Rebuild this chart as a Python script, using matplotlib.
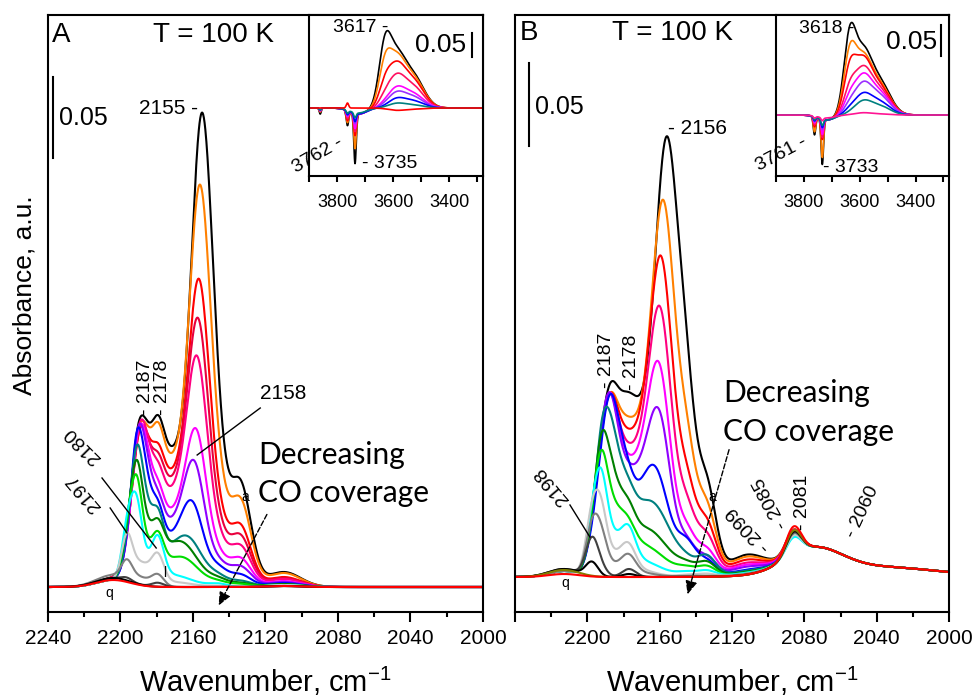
import numpy as np
import matplotlib
matplotlib.use('Agg')
import matplotlib.pyplot as plt
from matplotlib.ticker import MultipleLocator

plt.rcParams['font.family'] = ['Liberation Sans', 'DejaVu Sans']
plt.rcParams['mathtext.fontset'] = 'custom'
plt.rcParams['mathtext.rm'] = 'Liberation Sans'
plt.rcParams['mathtext.it'] = 'Liberation Sans:italic'

# Band heights. Heights are in the units of the
# figure, where the "0.05" scale bar is 81 long (panel A) / 83 long (panel B).
# Each spectrum is the sum of Gaussian bands (centre, FWHM in cm-1).

# ---------------- panel A : curves a..q ----------------
colors_A = ['#000000', '#FF8000', '#FF0000', '#E8003C', '#FF0080', '#FF00FF', '#8F00FF',
            '#0000FF', '#008080', '#007F00', '#00DD00', '#00FFFF', '#C8C8C8', '#808080',
            '#404040', '#000000', '#FF0000']
amp2204_A = [8, 8, 8, 8, 8, 7, 7, 7, 7, 7, 7, 7, 7, 12, 9, 9, 7]
amp2197_A = [20, 18, 18, 17, 16, 15, 15, 15, 20, 30, 35, 45, 45, 18, 3, 0, 0]
amp2191_A = [68, 62, 60, 62, 65, 70, 80, 95, 95, 90, 85, 70, 10, 3, 0, 0, 0]
amp2187_A = [87, 88, 90, 92, 100, 100, 95, 80, 60, 40, 25, 15, 15, 5, 0, 0, 0]
amp2180_A = [55, 55, 45, 42, 40, 38, 36, 40, 45, 35, 35, 40, 28, 12, 4, 0, 0]
amp2172_A = [131, 122, 108, 100, 90, 70, 60, 45, 30, 30, 18, 12, 5, 0, 0, 0, 0]
amp_main_A = [418, 350, 262, 225, 190, 125, 95, 60, 30, 20, 15, 0, 0, 0, 0, 0, 0]
pos_main_A = [2155, 2156, 2156.5, 2157, 2157.5, 2158, 2159, 2160, 2161.5, 2164, 2164,
              2164, 2164, 2164, 2164, 2164, 2164]
wid_main_A = [13.5, 13.5, 13.5, 13.5, 13.5, 13.5, 13.5, 14, 18, 20, 20, 20, 20, 20, 20, 20, 20]
amp2146_A = [77, 65, 45, 38, 32, 22, 18, 15, 8, 6, 4, 3, 1, 0, 0, 0, 0]
amp2134_A = [102, 85, 60, 50, 40, 28, 20, 12, 6, 4, 3, 0, 0, 0, 0, 0, 0]
amp2110_A = [15, 14, 10, 9, 8, 6, 5, 4, 3, 3, 2, 2, 2, 1, 1, 1, 1]

# ---------------- panel B : curves a..q ----------------
colors_B = ['#000000', '#FF8000', '#FF0000', '#FF0080', '#FF00FF', '#8F00FF', '#0000FF',
            '#008080', '#007F00', '#00DD00', '#00FFFF', '#C8C8C8', '#808080', '#404040',
            '#000000', '#808000', '#FF0000']
amp2213_B = [6, 6, 6, 6, 6, 6, 6, 6, 6, 6, 6, 6, 6, 8, 8, 7, 3]
amp2198_B = [25, 25, 25, 25, 25, 25, 25, 25, 30, 35, 45, 55, 45, 36, 14, 0, 0]
amp2192_B = [60, 60, 60, 62, 65, 68, 60, 90, 95, 90, 80, 55, 35, 8, 0, 0, 0]
amp2187_B = [95, 95, 100, 106, 110, 112, 120, 100, 70, 45, 25, 12, 6, 0, 0, 0, 0]
amp2182_B = [30, 30, 30, 30, 30, 30, 60, 40, 30, 25, 15, 10, 5, 0, 0, 0, 0]
amp2177_B = [15, 10, 8, 8, 8, 8, 30, 25, 25, 20, 30, 22, 16, 8, 3, 0, 0]
amp2174_B = [160, 138, 126, 111, 99, 92, 47, 45, 30, 22, 12, 8, 5, 0, 0, 0, 0]
amp_main_B = [393, 333, 276, 228, 174, 130, 86, 50, 28, 15, 6, 0, 0, 0, 0, 0, 0]
pos_main_B = [2156, 2157.7, 2158.8, 2159.4, 2160, 2160, 2162, 2161, 2162, 2163, 2165,
              2165, 2165, 2165, 2165, 2165, 2165]
wid_main_B = [15, 15, 15, 15, 15, 15, 18, 22, 24, 26, 26, 26, 26, 26, 26, 26, 26]
amp2145_B = [145, 110, 80, 60, 40, 30, 30, 10, 8, 6, 4, 2, 1, 0, 0, 0, 0]
amp2134_B = [86, 65, 50, 38, 25, 18, 15, 20, 14, 10, 6, 3, 1, 0, 0, 0, 0]
amp2112_B = [20, 18, 15, 12, 10, 8, 5, 4, 3, 2, 2, 1, 1, 0, 0, 0, 0]
amp2086_B = [24, 24, 24, 24, 20, 20, 20, 19, 19, 19, 17, 19, 21, 22, 23, 24, 28]
amp2075_B = [24, 24, 24, 24, 24, 24, 24, 24, 24, 24, 24, 24, 24, 24, 24, 24, 24]
amp2040_B = [10, 10, 10, 10, 10, 10, 10, 10, 10, 10, 10, 10, 10, 10, 10, 10, 10]

# ---------------- insets (OH region), 0.05 bar = 25 (A) / 30 (B) ----------------
ins_colors_A = ['#000000', '#FF8000', '#FF0000', '#FF1060', '#FF00FF', '#9B30FF',
                '#0000FF', '#008080', '#FF0000']
ins_p3630_A = [54, 36, 18, 7, 2, 1, 0, 0, 0]
ins_p3590_A = [45, 42, 36, 27, 17, 13, 8, 4, -2]
ins_p3530_A = [32, 30, 27, 21, 14, 11, 7, 3, -1]
ins_n3736_A = [-50, -35, -22, -18, -15, -10, -8, -5, 0]
ins_n3763_A = [-15, -12, -10, -8, -6, -5, -4, -3, 5]
ins_n3725_A = [-6, -6, -6, -6, -6, -6, -6, -5, 0]
ins_n3860_A = [-6, -4, -3, -3, -3, -2, -2, -2, 0]

ins_colors_B = ['#000000', '#FF8000', '#FF0000', '#FF1060', '#FF00FF', '#9B30FF',
                '#0000FF', '#008080', '#FF1493']
ins_p3636_B = [72, 55, 40, 22, 14, 8, 4, 1, 0]
ins_p3590_B = [55, 50, 48, 40, 34, 27, 18, 12, 2]
ins_p3530_B = [33, 30, 28, 25, 22, 19, 13, 9, 1]
ins_n3734_B = [-45, -38, -20, -18, -15, -10, -8, -6, -3]
ins_n3762_B = [-18, -15, -10, -8, -6, -5, -4, -3, -2]
ins_n3720_B = [-5, -5, -5, -5, -5, -5, -5, -5, -3]


def band(x, centre, fwhm):
    return np.exp(-4 * np.log(2) * (x - centre) ** 2 / fwhm ** 2)


wn = np.linspace(2240, 2000, 1201)
wn_oh = np.linspace(3900, 3280, 621)

fig = plt.figure(figsize=(9.74, 6.99), dpi=100)
axA = fig.add_axes([0.04928, 0.12446, 0.44661, 0.85408])
axB = fig.add_axes([0.52875, 0.12446, 0.44559, 0.85408])

# panel A spectra
for i in range(len(colors_A)):
    y = (amp2204_A[i] * band(wn, 2204, 22) + amp2197_A[i] * band(wn, 2196.5, 7)
         + amp2191_A[i] * band(wn, 2191.5, 7.5) + amp2187_A[i] * band(wn, 2187, 9)
         + amp2180_A[i] * band(wn, 2179.5, 8) + amp2172_A[i] * band(wn, 2172, 26)
         + amp_main_A[i] * band(wn, pos_main_A[i], wid_main_A[i])
         + amp2146_A[i] * band(wn, 2146, 12)
         + amp2134_A[i] * band(wn, 2134, 14) + amp2110_A[i] * band(wn, 2110, 22))
    axA.plot(wn, y, color=colors_A[i], lw=1.5)

# panel B spectra
for i in range(len(colors_B)):
    y = (amp2213_B[i] * band(wn, 2213, 20) + amp2198_B[i] * band(wn, 2197.5, 8)
         + amp2192_B[i] * band(wn, 2192.5, 8) + amp2187_B[i] * band(wn, 2187.5, 9)
         + amp2182_B[i] * band(wn, 2182, 9) + amp2177_B[i] * band(wn, 2177, 9)
         + amp2174_B[i] * band(wn, 2174, 24)
         + amp_main_B[i] * band(wn, pos_main_B[i], wid_main_B[i])
         + amp2145_B[i] * band(wn, 2145, 12) + amp2134_B[i] * band(wn, 2134, 12)
         + amp2112_B[i] * band(wn, 2112, 24) + amp2086_B[i] * band(wn, 2086, 10)
         + amp2075_B[i] * band(wn, 2075, 36) + amp2040_B[i] * band(wn, 2040, 80))
    axB.plot(wn, y, color=colors_B[i], lw=1.5)

for ax in (axA, axB):
    ax.set_xlim(2240, 2000)
    ax.xaxis.set_major_locator(MultipleLocator(40))
    ax.xaxis.set_minor_locator(MultipleLocator(20))
    ax.tick_params(axis='x', which='major', direction='out', length=7, width=1.5,
                   labelsize=15, pad=5)
    ax.tick_params(axis='x', which='minor', direction='out', length=3.5, width=1.5)
    ax.set_yticks([])
    for s in ax.spines.values():
        s.set_linewidth(1.5)
    ax.set_xlabel('Wavenumber, cm$^{-1}$', fontsize=21, labelpad=12)
axA.set_ylim(-25, 572)
axB.set_ylim(-35, 562)
axB.set_xticks([2240, 2200, 2160, 2120, 2080, 2040, 2000])
axB.set_xticklabels(['', '2200', '2160', '2120', '2080', '2040', '2000'])
fig.text(0.0247, 0.578, 'Absorbance, a.u.', rotation=90, fontsize=19, ha='center', va='center')

# ---- annotations panel A
axA.text(0.009, 0.966, 'A', transform=axA.transAxes, fontsize=20, ha='left', va='center')
axA.text(0.241, 0.966, 'T = 100 K', transform=axA.transAxes, fontsize=20, ha='left', va='center')
axA.plot([2237.2, 2237.2], [429, 510], color='k', lw=1.5)
axA.text(2234, 469, '0.05', fontsize=18, ha='left', va='center')
axA.text(2157.1, 479, '2155 -', fontsize=15, ha='right', va='center')
axA.text(2186.4, 172, '- 2187', rotation=90, fontsize=14, ha='center', va='bottom')
axA.text(2177.0, 172, '- 2178', rotation=90, fontsize=14, ha='center', va='bottom')
axA.text(2122.9, 194, '2158', fontsize=15, ha='left', va='center')
axA.plot([2122.9, 2157.7], [179, 132], color='k', lw=1)
axA.text(2220.1, 95, '2197', rotation=130, fontsize=14, ha='center', va='center')
axA.plot([2205.7, 2196.4], [79, 54], color='k', lw=1)
axA.text(2221.2, 142, '2180', rotation=135, fontsize=14, ha='center', va='center')
axA.plot([2210.2, 2180.3], [109, 39], color='k', lw=1)
axA.text(2131.2, 90, 'a', fontsize=10, ha='center', va='center')
axA.text(2175.4, 14, 'l', fontsize=10, ha='center', va='center')
axA.text(2206.3, -6, 'q', fontsize=10, ha='center', va='center')
axA.annotate('', xy=(2146.6, -21), xytext=(2118.5, 75),
             arrowprops=dict(arrowstyle='-|>,head_length=0.8,head_width=0.35', ls='--',
                             lw=1, color='k'))
axA.text(2124, 132, 'Decreasing', fontsize=21.5, family=['Lato', 'DejaVu Sans'],
         ha='left', va='center')
axA.text(2124, 94, 'CO coverage', fontsize=21.5, family=['Lato', 'DejaVu Sans'],
         ha='left', va='center')

# ---- annotations panel B
axB.text(0.012, 0.97, 'B', transform=axB.transAxes, fontsize=20, ha='left', va='center')
axB.text(0.2235, 0.97, 'T = 100 K', transform=axB.transAxes, fontsize=20, ha='left', va='center')
axB.plot([2232.3, 2232.3], [431, 514], color='k', lw=1.5)
axB.text(2229, 470, '0.05', fontsize=18, ha='left', va='center')
axB.text(2155.5, 449, '- 2156', fontsize=15, ha='left', va='center')
axB.text(2189.5, 189, '- 2187', rotation=90, fontsize=14, ha='center', va='bottom')
axB.text(2175.4, 187, '- 2178', rotation=90, fontsize=14, ha='center', va='bottom')
axB.text(2219.6, 92, '2198', rotation=130, fontsize=14, ha='center', va='center')
axB.plot([2209.6, 2198.6], [72, 40], color='k', lw=1)
axB.text(2110.5, 48, '- 2099', rotation=133, fontsize=14, ha='center', va='center')
axB.text(2098.5, 74, '- 2085', rotation=118, fontsize=14, ha='center', va='center')
axB.text(2081, 47, '- 2081', rotation=90, fontsize=14, ha='center', va='bottom')
axB.text(2048, 65, '- 2060', rotation=65, fontsize=14, ha='center', va='center')
axB.text(2131.2, 80, 'a', fontsize=10, ha='center', va='center')
axB.text(2212.4, -6, 'q', fontsize=10, ha='center', va='center')
axB.annotate('', xy=(2145, -20), xytext=(2121.2, 130),
             arrowprops=dict(arrowstyle='-|>,head_length=0.8,head_width=0.35', ls='--',
                             lw=1, color='k'))
axB.text(2125, 184, 'Decreasing', fontsize=21.5, family=['Lato', 'DejaVu Sans'],
         ha='left', va='center')
axB.text(2125, 145, 'CO coverage', fontsize=21.5, family=['Lato', 'DejaVu Sans'],
         ha='left', va='center')

# ---- insets
insA = fig.add_axes([0.31725, 0.7482, 0.17864, 0.2303])
insB = fig.add_axes([0.79671, 0.7482, 0.17762, 0.2303])
for i in range(len(ins_colors_A)):
    y = (ins_p3630_A[i] * band(wn_oh, 3630, 50) + ins_p3590_A[i] * band(wn_oh, 3590, 70)
         + ins_p3530_A[i] * band(wn_oh, 3530, 90)
         + ins_n3736_A[i] * band(wn_oh, 3736, 10) + ins_n3763_A[i] * band(wn_oh, 3763, 10)
         + ins_n3725_A[i] * band(wn_oh, 3725, 70) + ins_n3860_A[i] * band(wn_oh, 3860, 8))
    insA.plot(wn_oh, y, color=ins_colors_A[i], lw=1.2)
for i in range(len(ins_colors_B)):
    y = (ins_p3636_B[i] * band(wn_oh, 3636, 50) + ins_p3590_B[i] * band(wn_oh, 3590, 70)
         + ins_p3530_B[i] * band(wn_oh, 3530, 90)
         + ins_n3734_B[i] * band(wn_oh, 3734, 10) + ins_n3762_B[i] * band(wn_oh, 3762, 10)
         + ins_n3720_B[i] * band(wn_oh, 3720, 70))
    insB.plot(wn_oh, y, color=ins_colors_B[i], lw=1.2)
insA.set_ylim(-68, 93)
insB.set_ylim(-61, 100)
for ins in (insA, insB):
    ins.set_xlim(3900, 3280)
    ins.set_xticks([3800, 3600, 3400])
    ins.xaxis.set_minor_locator(MultipleLocator(100))
    ins.tick_params(axis='x', which='both', direction='out', length=4, width=1.5,
                    labelsize=13, pad=9)
    ins.set_yticks([])
    for s in ins.spines.values():
        s.set_linewidth(1.5)

insA.text(3618, 81, '3617 -', fontsize=14, ha='right', va='center')
insA.plot([3318, 3318], [51, 75], color='k', lw=1.5)
insA.text(3521, 63, '0.05', fontsize=19, ha='left', va='center')
insA.text(3868, -47, '3762 -', rotation=30, fontsize=14, ha='center', va='center', clip_on=False)
insA.text(3711, -55, '- 3735', fontsize=14, ha='left', va='center')

insB.text(3618, 87, '3618 -', fontsize=14, ha='right', va='center')
insB.plot([3307, 3307], [59, 90], color='k', lw=1.5)
insB.text(3504, 73, '0.05', fontsize=19, ha='left', va='center')
insB.text(3882, -39, '3761 -', rotation=28, fontsize=14, ha='center', va='center', clip_on=False)
insB.text(3732, -52, '- 3733', fontsize=14, ha='left', va='center')

fig.savefig('out.png', dpi=100)
